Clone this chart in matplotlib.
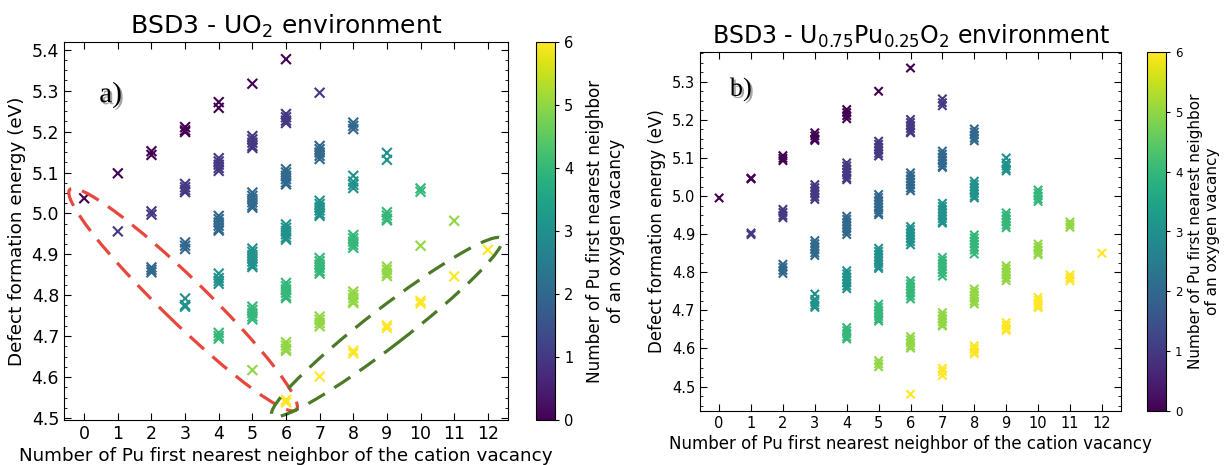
import matplotlib
matplotlib.use("Agg")
import matplotlib.pyplot as plt
import matplotlib.patheffects as pe
from matplotlib import transforms
from matplotlib.patches import Ellipse

# energies (eV)
# key = number of Pu first neighbours of the cation vacancy
# one dict per number of Pu first neighbours of the oxygen vacancy (colour)
uo2_o0 = {0: [5.037], 1: [5.098], 2: [5.152, 5.143], 3: [5.211, 5.203, 5.199],
          4: [5.272, 5.258], 5: [5.317], 6: [5.377]}
uo2_o1 = {1: [4.956], 2: [5.005, 4.997], 3: [5.072, 5.064, 5.057, 5.052],
          4: [5.135, 5.127, 5.119, 5.111, 5.104], 5: [5.189, 5.181, 5.173, 5.165, 5.160],
          6: [5.243, 5.235, 5.227, 5.221], 7: [5.295]}
uo2_o2 = {2: [4.868, 4.862, 4.856], 3: [4.929, 4.921, 4.913],
          4: [4.994, 4.986, 4.978, 4.970, 4.962, 4.958], 5: [5.051, 5.043, 5.035, 5.027, 5.019, 5.014],
          6: [5.108, 5.100, 5.092, 5.084, 5.076, 5.071], 7: [5.165, 5.157, 5.149, 5.141, 5.133],
          8: [5.222, 5.214, 5.206]}
uo2_o3 = {3: [4.792, 4.776, 4.772], 4: [4.853, 4.842, 4.835, 4.828],
          5: [4.914, 4.906, 4.898, 4.890, 4.882, 4.874, 4.869], 6: [4.973, 4.965, 4.957, 4.949, 4.941, 4.936],
          7: [5.031, 5.023, 5.015, 5.007, 4.999, 4.994], 8: [5.092, 5.078, 5.070, 5.062],
          9: [5.148, 5.131]}
uo2_o4 = {4: [4.708, 4.700, 4.694], 5: [4.772, 4.764, 4.756, 4.748, 4.741],
          6: [4.830, 4.822, 4.814, 4.806, 4.798, 4.793], 7: [4.891, 4.883, 4.875, 4.867, 4.859, 4.853],
          8: [4.947, 4.939, 4.931, 4.923, 4.916], 9: [5.003, 4.995, 4.987, 4.983], 10: [5.061, 5.053]}
uo2_o5 = {5: [4.617], 6: [4.685, 4.677, 4.669, 4.664], 7: [4.748, 4.740, 4.732, 4.724],
          8: [4.809, 4.801, 4.793, 4.785, 4.781], 9: [4.870, 4.862, 4.854, 4.847],
          10: [4.921], 11: [4.982]}
uo2_o6 = {6: [4.544, 4.538], 7: [4.601], 8: [4.664, 4.658], 9: [4.726, 4.720],
          10: [4.786, 4.780], 11: [4.846], 12: [4.911]}

mox_o0 = {0: [4.995], 1: [5.047, 5.045], 2: [5.106, 5.099, 5.093], 3: [5.166, 5.158, 5.150, 5.146],
          4: [5.227, 5.219, 5.211, 5.203], 5: [5.275], 6: [5.336]}
mox_o1 = {1: [4.903, 4.899], 2: [4.965, 4.957, 4.949, 4.943],
          3: [5.030, 5.022, 5.014, 5.006, 4.998, 4.991],
          4: [5.087, 5.079, 5.071, 5.063, 5.055, 5.047, 5.043],
          5: [5.144, 5.136, 5.128, 5.120, 5.112, 5.105],
          6: [5.201, 5.193, 5.185, 5.177, 5.169, 5.166], 7: [5.255, 5.245, 5.237]}
mox_o2 = {2: [4.821, 4.813, 4.805, 4.797], 3: [4.883, 4.875, 4.867, 4.859, 4.851, 4.844],
          4: [4.947, 4.939, 4.931, 4.923, 4.915, 4.907, 4.899],
          5: [5.004, 4.996, 4.988, 4.980, 4.972, 4.964, 4.956, 4.951],
          6: [5.061, 5.053, 5.045, 5.037, 5.029, 5.021, 5.014],
          7: [5.118, 5.110, 5.102, 5.094, 5.086, 5.078, 5.075],
          8: [5.176, 5.168, 5.160, 5.152, 5.145]}
mox_o3 = {3: [4.743, 4.729, 4.721, 4.713, 4.708],
          4: [4.804, 4.796, 4.788, 4.780, 4.772, 4.764, 4.757],
          5: [4.863, 4.855, 4.847, 4.839, 4.831, 4.823, 4.815, 4.810],
          6: [4.920, 4.912, 4.904, 4.896, 4.888, 4.880, 4.872],
          7: [4.981, 4.973, 4.965, 4.957, 4.949, 4.941, 4.933, 4.929],
          8: [5.039, 5.031, 5.023, 5.015, 5.007, 4.999, 4.995],
          9: [5.100, 5.087, 5.079, 5.071, 5.066]}
mox_o4 = {4: [4.655, 4.647, 4.639, 4.631, 4.625],
          5: [4.716, 4.708, 4.700, 4.692, 4.684, 4.677, 4.672],
          6: [4.778, 4.770, 4.762, 4.754, 4.746, 4.738, 4.730],
          7: [4.839, 4.831, 4.823, 4.815, 4.807, 4.799, 4.790],
          8: [4.898, 4.890, 4.882, 4.874, 4.866, 4.858, 4.848],
          9: [4.956, 4.948, 4.940, 4.932, 4.924, 4.917],
          10: [5.016, 5.008, 5.000, 4.992, 4.986]}
mox_o5 = {5: [4.568, 4.560, 4.552], 6: [4.631, 4.623, 4.615, 4.607, 4.601],
          7: [4.694, 4.686, 4.678, 4.670, 4.662, 4.659],
          8: [4.756, 4.748, 4.740, 4.732, 4.724, 4.717],
          9: [4.817, 4.809, 4.801, 4.793, 4.785, 4.778],
          10: [4.874, 4.866, 4.858, 4.850, 4.846], 11: [4.932, 4.925, 4.918]}
mox_o6 = {6: [4.480], 7: [4.548, 4.540, 4.529], 8: [4.607, 4.599, 4.591, 4.586],
          9: [4.668, 4.660, 4.652, 4.647], 10: [4.734, 4.726, 4.718, 4.711, 4.707],
          11: [4.793, 4.785, 4.778], 12: [4.850]}

uo2_groups = [uo2_o0, uo2_o1, uo2_o2, uo2_o3, uo2_o4, uo2_o5, uo2_o6]
mox_groups = [mox_o0, mox_o1, mox_o2, mox_o3, mox_o4, mox_o5, mox_o6]
cation_ticks = list(range(13))

xlabel = 'Number of Pu first nearest neighbor of the cation vacancy'
ylabel = 'Defect formation energy (eV)'
cbar_label = 'Number of Pu first nearest neighbor\nof an oxygen vacancy'


def flatten(groups):
    xs, es, cs = [], [], []
    for c, grp in enumerate(groups):
        for k, energies in grp.items():
            xs += [k] * len(energies)
            es += energies
            cs += [c] * len(energies)
    return xs, es, cs


def draw_panel(ax, cax, groups, title, ylim, fs, lfs, tfs, msize, tag, tag_pos, tag_fs, cpad):
    xs, es, cs = flatten(groups)
    sc = ax.scatter(xs, es, c=cs, cmap='viridis', vmin=0, vmax=6, marker='x',
                    s=msize, linewidths=1.5)
    ax.set_xlim(-0.6, 12.6)
    ax.set_ylim(*ylim)
    ax.set_xticks(cation_ticks)
    ax.set_yticks([round(4.5 + 0.1 * i, 1) for i in range(10) if 4.5 + 0.1 * i <= ylim[1]])
    ax.yaxis.set_minor_locator(matplotlib.ticker.MultipleLocator(0.025))
    ax.tick_params(which='both', direction='in', top=True, right=True, labelsize=fs)
    ax.tick_params(which='major', length=5)
    ax.tick_params(which='minor', length=2.5)
    ax.set_xlabel(xlabel, fontsize=lfs, labelpad=3)
    ax.set_ylabel(ylabel, fontsize=lfs)
    ax.set_title(title, fontsize=tfs, pad=6)
    t = ax.text(tag_pos[0], tag_pos[1], tag, transform=ax.transAxes, fontsize=tag_fs,
                family='Liberation Serif', ha='center', va='center')
    t.set_path_effects([pe.SimplePatchShadow(offset=(1.5, -1.5), alpha=0.35), pe.Normal()])

    cb = ax.figure.colorbar(sc, cax=cax)
    cb.set_ticks(range(7))
    cb.ax.tick_params(labelsize=fs - 2, length=3)
    cb.outline.set_linewidth(0.8)
    cb.set_label(cbar_label, fontsize=lfs - 1, labelpad=cpad)
    return sc


fig = plt.figure(figsize=(12.32, 4.65), dpi=100)
ax1 = fig.add_axes([64 / 1232, 45 / 465, 444 / 1232, 378 / 465])
cax1 = fig.add_axes([536 / 1232, 45 / 465, 19 / 1232, 378 / 465])
ax2 = fig.add_axes([700 / 1232, 54 / 465, 421 / 1232, 359 / 465])
cax2 = fig.add_axes([1147 / 1232, 54 / 465, 19 / 1232, 359 / 465])

draw_panel(ax1, cax1, uo2_groups, r'BSD3 - UO$_2$ environment', (4.495, 5.419),
           12.5, 13.2, 18, 50, 'a)', (0.105, 0.86), 21, 9)
draw_panel(ax2, cax2, mox_groups, r'BSD3 - U$_{0.75}$Pu$_{0.25}$O$_2$ environment',
           (4.436, 5.378), 10.5, 12.0, 17, 36, 'b)', (0.097, 0.895), 19, 4)

# hand-drawn style ellipses on panel a), centre in data units, size in inches
for (cx, cy), w, h, ang, col in [((2.94, 4.789), 3.16, 0.44, -44.2, '#e8473b'),
                                 ((9.0, 4.722), 2.90, 0.38, 37.6, '#4c7a27')]:
    tr = fig.dpi_scale_trans + transforms.ScaledTranslation(cx, cy, ax1.transData)
    ax1.add_patch(Ellipse((0, 0), w, h, angle=ang, transform=tr, fill=False,
                          edgecolor=col, lw=2.3, ls=(0, (6, 3.5)), clip_on=False))

fig.savefig('out.png', dpi=100)
